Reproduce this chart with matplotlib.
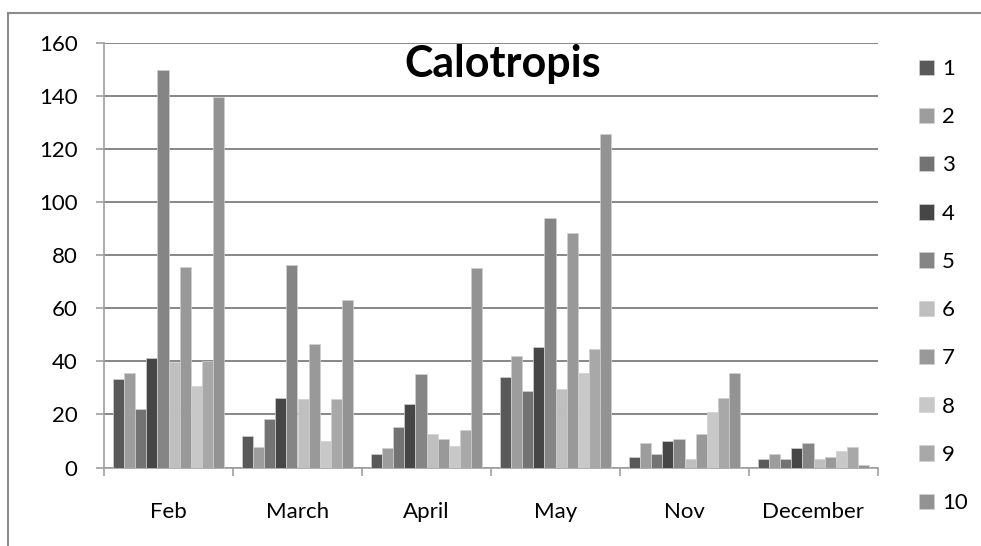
import matplotlib
matplotlib.use("Agg")
import matplotlib.pyplot as plt
import numpy as np
from matplotlib.lines import Line2D

months = ["Feb", "March", "April", "May", "Nov", "December"]
series_names = ["1", "2", "3", "4", "5", "6", "7", "8", "9", "10"]

s1 = [33.4, 11.8, 5.0, 34.1, 3.8, 3.2]
s2 = [35.6, 7.6, 7.4, 42.2, 9.4, 4.9]
s3 = [22.1, 18.4, 15.1, 28.8, 4.9, 3.1]
s4 = [41.2, 26.1, 24.1, 45.3, 9.9, 7.2]
s5 = [150.0, 76.5, 35.4, 93.9, 10.8, 9.1]
s6 = [39.6, 25.8, 12.5, 29.6, 3.1, 3.1]
s7 = [75.6, 46.7, 10.7, 88.5, 12.8, 3.9]
s8 = [30.9, 9.9, 8.0, 35.8, 20.8, 6.2]
s9 = [40.2, 25.8, 14.0, 44.8, 26.1, 7.9]
s10 = [139.8, 63.0, 75.3, 125.6, 35.8, 0.9]
series_values = [s1, s2, s3, s4, s5, s6, s7, s8, s9, s10]

colors = ["#595959", "#9d9d9d", "#737373", "#464646", "#858585",
          "#bfbfbf", "#999999", "#c8c8c8", "#a8a8a8", "#939393"]

FONT = "Lato"
FS = 16
fig = plt.figure(figsize=(9.81, 5.46), dpi=100)
ax = fig.add_axes([104 / 981, 1 - 467.5 / 546, (878 - 104) / 981, (467.5 - 43) / 546])

n = len(series_values)
group = 0.868
bw = group / n
x = np.arange(len(months)) + 0.5
for i, (vals, col, name) in enumerate(zip(series_values, colors, series_names)):
    offs = -group / 2 + bw * (i + 0.5)
    ax.bar(x + offs, vals, width=bw, color=col, edgecolor="#d0d0d0",
           linewidth=0.5, label=name, zorder=3)

ax.set_xlim(0, len(months))
ax.set_ylim(0, 160)
ax.set_yticks(np.arange(0, 161, 20))
ax.grid(axis="y", color="#878787", linewidth=1.4, zorder=0)
ax.set_axisbelow(True)

# category boundaries get tick marks, names sit at the centres
ax.set_xticks(np.arange(0, len(months) + 1))
ax.set_xticklabels([])
ax.set_xticks(x, minor=True)
ax.set_xticklabels(months, minor=True, fontsize=FS, fontfamily=FONT)
ax.tick_params(axis="x", which="major", length=6, width=1.2, color="#a0a0a0")
ax.tick_params(axis="x", which="minor", length=0, pad=25)
ax.tick_params(axis="y", length=6, width=1.2, color="#a0a0a0", pad=13,
               labelsize=FS)
for lab in ax.get_yticklabels():
    lab.set_fontfamily(FONT)

for side in ["top", "right"]:
    ax.spines[side].set_visible(False)
for side in ["left", "bottom"]:
    ax.spines[side].set_color("#a0a0a0")
    ax.spines[side].set_linewidth(1.2)

fig.text(503 / 981, 1 - 77 / 546, "Calotropis", fontsize=31, fontweight="bold",
         fontfamily=FONT, ha="center", va="baseline")

leg = fig.legend(loc="upper left", bbox_to_anchor=(919 / 981, 1 - 59 / 546),
                 frameon=False, prop={"family": FONT, "size": FS},
                 handlelength=0.68, handleheight=0.68, handletextpad=0.35,
                 labelspacing=1.27, borderaxespad=0, borderpad=0)

# chart frame: only its top and left edges fall inside the image
fy = 1 - 13 / 546
fx = 8 / 981
fig.add_artist(Line2D([fx, 1.05], [fy, fy], transform=fig.transFigure,
                      color="#8c8c8c", linewidth=1.5))
fig.add_artist(Line2D([fx, fx], [-0.05, fy], transform=fig.transFigure,
                      color="#8c8c8c", linewidth=1.5))

fig.savefig("out.png", dpi=100)
